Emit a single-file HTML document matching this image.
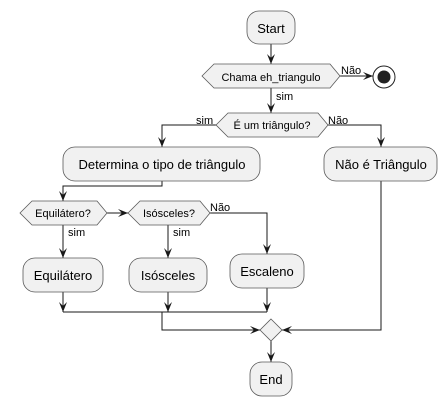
<!DOCTYPE html>
<html><head><meta charset="utf-8"><style>
html,body{margin:0;padding:0;background:#fff;}
svg{display:block;}
text{font-family:"Liberation Sans","DejaVu Sans",sans-serif;fill:#000;}
</style></head><body>
<svg width="448" height="406" viewBox="0 0 448 406" xmlns="http://www.w3.org/2000/svg">
<defs>
<marker id="a" viewBox="0 0 10 10" refX="10" refY="5" markerWidth="10" markerHeight="10" markerUnits="userSpaceOnUse" orient="auto">
<path d="M0,1 L10,5 L0,9 L4,5 Z" fill="#181818"/>
</marker>
</defs>
<g fill="none" stroke="#181818" stroke-width="1">
<path d="M271,44 V64" marker-end="url(#a)"/>
<path d="M340,76 H373" marker-end="url(#a)"/>
<path d="M271,88 V113" marker-end="url(#a)"/>
<path d="M216,125 H162 V147" marker-end="url(#a)"/>
<path d="M328,125 H381 V147" marker-end="url(#a)"/>
<path d="M162,181 V186 H63 V201" marker-end="url(#a)"/>
<path d="M107,213 H128" marker-end="url(#a)"/>
<path d="M63,225 V258" marker-end="url(#a)"/>
<path d="M168,225 V258" marker-end="url(#a)"/>
<path d="M210,213 H267 V254" marker-end="url(#a)"/>
<path d="M63,292 V312" marker-end="url(#a)"/>
<path d="M168,292 V312" marker-end="url(#a)"/>
<path d="M267,288 V312" marker-end="url(#a)"/>
<path d="M63,312 H267"/>
<path d="M162,312 V330 H260" marker-end="url(#a)"/>
<path d="M381,181 V330 H282" marker-end="url(#a)"/>
<path d="M271,341 V362" marker-end="url(#a)"/>
</g>
<g fill="#f1f1f1" stroke="#5a5a5a" stroke-width="0.8">
<rect x="247" y="11" width="48" height="33" rx="12"/>
<polygon points="202,76 214,64 330,64 340,76 330,88 214,88"/>
<polygon points="216,125 228,113 318,113 328,125 318,137 228,137"/>
<rect x="63" y="147" width="197" height="34" rx="12"/>
<rect x="324" y="147" width="113" height="34" rx="12"/>
<polygon points="20,213 32,201 97,201 107,213 97,225 32,225"/>
<polygon points="128,213 140,201 200,201 210,213 200,225 140,225"/>
<rect x="23" y="258" width="80" height="34" rx="12"/>
<rect x="129" y="258" width="78" height="34" rx="12"/>
<rect x="230" y="254" width="74" height="34" rx="12"/>
<polygon points="271,319 282,330 271,341 260,330"/>
<rect x="250" y="362" width="42" height="34" rx="12"/>
</g>
<circle cx="384" cy="77" r="11" fill="none" stroke="#222" stroke-width="1"/>
<circle cx="384" cy="77" r="6.5" fill="#222"/>
<g font-size="13" text-anchor="middle">
<text x="271" y="33">Start</text>
<text x="162" y="169">Determina o tipo de triângulo</text>
<text x="381" y="169">Não é Triângulo</text>
<text x="63" y="280">Equilátero</text>
<text x="168" y="280">Isósceles</text>
<text x="267" y="276">Escaleno</text>
<text x="271" y="384">End</text>
</g>
<g font-size="11" text-anchor="middle">
<text x="271" y="81">Chama eh_triangulo</text>
<text x="272" y="129">É um triângulo?</text>
<text x="63" y="217">Equilátero?</text>
<text x="169" y="217">Isósceles?</text>
</g>
<g font-size="11">
<text x="341" y="74">Não</text>
<text x="276" y="100">sim</text>
<text x="196" y="124">sim</text>
<text x="328" y="124">Não</text>
<text x="210" y="211">Não</text>
<text x="68" y="236">sim</text>
<text x="173" y="236">sim</text>
</g>
</svg>
</body></html>
